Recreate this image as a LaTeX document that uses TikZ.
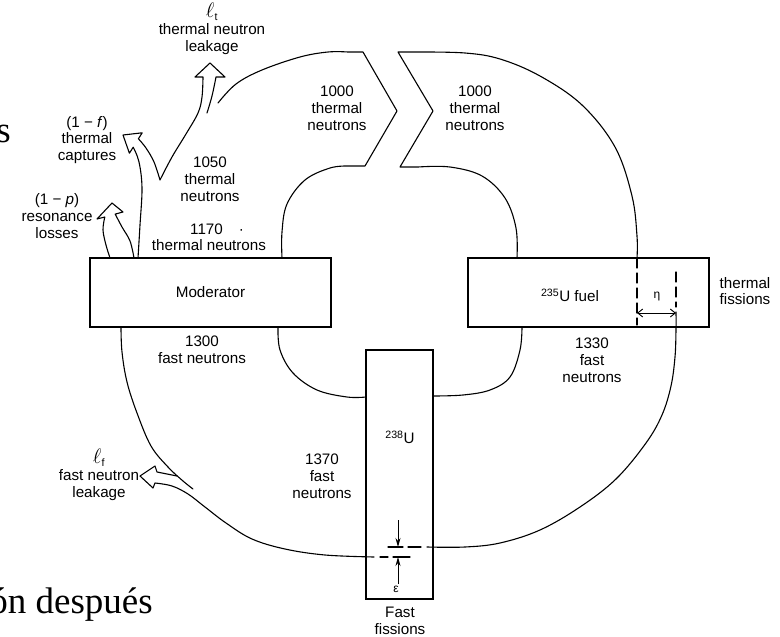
\documentclass[tikz,border=0pt]{standalone}
\usepackage{fontspec}
\usepackage{graphicx}
\newfontfamily\labsans{Liberation Sans}
\newfontfamily\slideserif{Liberation Serif}
\usetikzlibrary{arrows.meta}
\newcommand\ellsym{\scalebox{1.45}{$\ell$}}
\begin{document}
\begin{tikzpicture}[x=1pt,y=-1pt,
  flow/.style={line width=1.1pt, line join=round, line cap=round},
  box/.style={draw, line width=1.1pt, inner sep=0pt},
  lbl/.style={font=\labsans\fontsize{15.2}{16.8}\selectfont, align=center, inner sep=0pt},
  small/.style={font=\labsans\fontsize{12}{13}\selectfont, inner sep=0pt},
  slide/.style={font=\slideserif\fontsize{37}{42}\selectfont, inner sep=0pt},
  dashv/.style={flow, dash pattern=on 10pt off 5pt},
  smooth6/.style={smooth, tension=0.6}
]
\useasboundingbox (0,0) rectangle (780,637);
\fill[white] (0,0) rectangle (780,637);

% ---- slide fragments (cut off at the left edge, as in the reference)
\node[slide, anchor=base east] (frags) at (11,142) {s};
\node[slide, anchor=base east] (frago) at (153,613) {ón después};

% ---- inner top-left arch, left chevron, outer top-left curve
\draw[flow] plot[smooth6] coordinates {(282,258) (282,232) (287,204) (305,180) (330,168) (348,166)}
  -- (365,166) -- (397,111) -- (363,52)
  -- plot[smooth6] coordinates {(348,52) (328,52) (300,57) (262,70) (236,84) (218,103)};

% ---- right chevron, outer top-right arc, inner top-right arch
\draw[flow] plot[smooth6] coordinates {(637,258) (637,236) (632,196) (615,147) (582,105) (540,76) (500,59) (465,53) (418,52)}
  -- (398,52) -- (433,111) -- (400,167)
  -- plot[smooth6] coordinates {(418,167) (450,167) (482,176) (505,198) (516,228) (517,258)};

% ---- thermal leakage arrow + thermal captures arrow
\draw[flow] plot[smooth6] coordinates {(207,113) (212,96) (216,77)}
  -- (225,77) -- (210,63) -- (195,77) -- (203,77)
  -- plot[smooth6] coordinates {(203,77) (202,97) (198,113) (186,134) (172,157) (160,180)}
  -- plot[smooth6] coordinates {(160,180) (154,162) (146,148) (138.4,138.8)}
  -- (142.2,132.8) -- (123,135) -- (129.4,153.2) -- (133.2,147.2)
  -- plot[smooth6] coordinates {(133.2,147.2) (139,162) (142,188) (140,225) (138,258)};

% ---- resonance losses arrow
\draw[flow] plot[smooth6] coordinates {(110,258) (106,245) (103,230) (104.8,217)}
  -- (97,219) -- (112,203) -- (123,212) -- (115.2,214.1)
  -- plot[smooth6] coordinates {(115.2,214.1) (122,227) (130,241) (134,258)};

% ---- inner lower loops
\draw[flow] plot[smooth6] coordinates {(278,327) (280,350) (293,373) (317,390) (347,397) (366,397)};
\draw[flow] plot[smooth6] coordinates {(522,327) (520,350) (510,377) (490,390) (463,395) (433,396)};

% ---- outer lower-left arc with fast leakage arrow
\draw[flow] plot[smooth6] coordinates {(121,327) (122,352) (127,382) (137,413) (151,446) (168,467) (183,481) (193,489)};
\draw[flow] (177,476) -- (157,472) -- (155,466) -- (140,476) -- (153,488) -- (155,483)
  -- plot[smooth6] coordinates {(155,483) (172,486) (188,494) (205,507) (226,523) (252,539) (285,549) (325,555) (374,557)};

% ---- epsilon marks in 238U
\draw[flow] (380,557) -- (388,557);
\draw[flow] (393,557) -- (410,557);
\draw[flow] (388,547) -- (403,547);
\draw[flow] (408,547) -- (421,547);
\draw[line width=1pt, -{Stealth[length=9pt,width=5pt]}] (398,520) -- (398,547);
\draw[line width=1pt, -{Stealth[length=9pt,width=5pt]}] (398,584) -- (398,557);

% ---- outer lower-right arc
\draw[flow] plot[smooth6] coordinates {(676,312) (676,330) (675,357) (671,386) (662,415) (646,443) (616,479) (580,507) (540,530) (500,543) (465,547) (427,547)};

% ---- eta marks in fuel
\draw[dashv] (637,258) -- (637,325);
\draw[dashv] (676,272) -- (676,307);
\draw[line width=0.9pt, {Straight Barb[length=5pt,width=8pt]}-{Straight Barb[length=5pt,width=8pt]}] (637,313) -- (676,313);

% ---- boxes
\node[box, minimum width=241pt, minimum height=69pt, lbl] (mod) at (210.5,292.5) {Moderator};
\node[box, minimum width=241pt, minimum height=69pt] (fuel) at (588.5,292.5) {};
\node[box, minimum width=67pt, minimum height=249pt] (u238) at (399.5,474.5) {};

% ---- labels
\node[lbl] (tleak) at (212,29) {\ellsym\textsubscript{t}\\thermal neutron\\leakage};
\node[lbl] (capt) at (87,140) {(1 − \textit{f})\\thermal\\captures};
\node[lbl] (reson) at (57,216) {(1 − \textit{p})\\resonance\\losses};
\node[lbl] (n1050) at (210,179) {1050\\thermal\\neutrons};
\node[lbl, anchor=west] (n1170) at (190,229) {1170\hspace{16pt}·};
\node[lbl] (n1170b) at (209,245) {thermal neutrons};
\node[lbl] (n1000l) at (337,108) {1000\\thermal\\neutrons};
\node[lbl] (n1000r) at (475,108) {1000\\thermal\\neutrons};
\node[lbl] (fueltxt) at (570,295) {\textsuperscript{235}U fuel};
\node[small] (eta) at (657,297) {η};
\node[lbl] (thfiss) at (745,291) {thermal\\fissions};
\node[lbl] (n1300) at (202,350) {1300\\fast neutrons};
\node[lbl] (n1330) at (592,360) {1330\\fast\\neutrons};
\node[lbl] (u238txt) at (400,437) {\textsuperscript{238}U};
\node[lbl] (n1370) at (322,476) {1370\\fast\\neutrons};
\node[lbl] (fleak) at (99,475) {\ellsym\textsubscript{f}\\fast neutron\\leakage};
\node[small] (eps) at (396,589) {ε};
\node[lbl] (ffiss) at (400,621) {Fast\\fissions};
\end{tikzpicture}
\end{document}
